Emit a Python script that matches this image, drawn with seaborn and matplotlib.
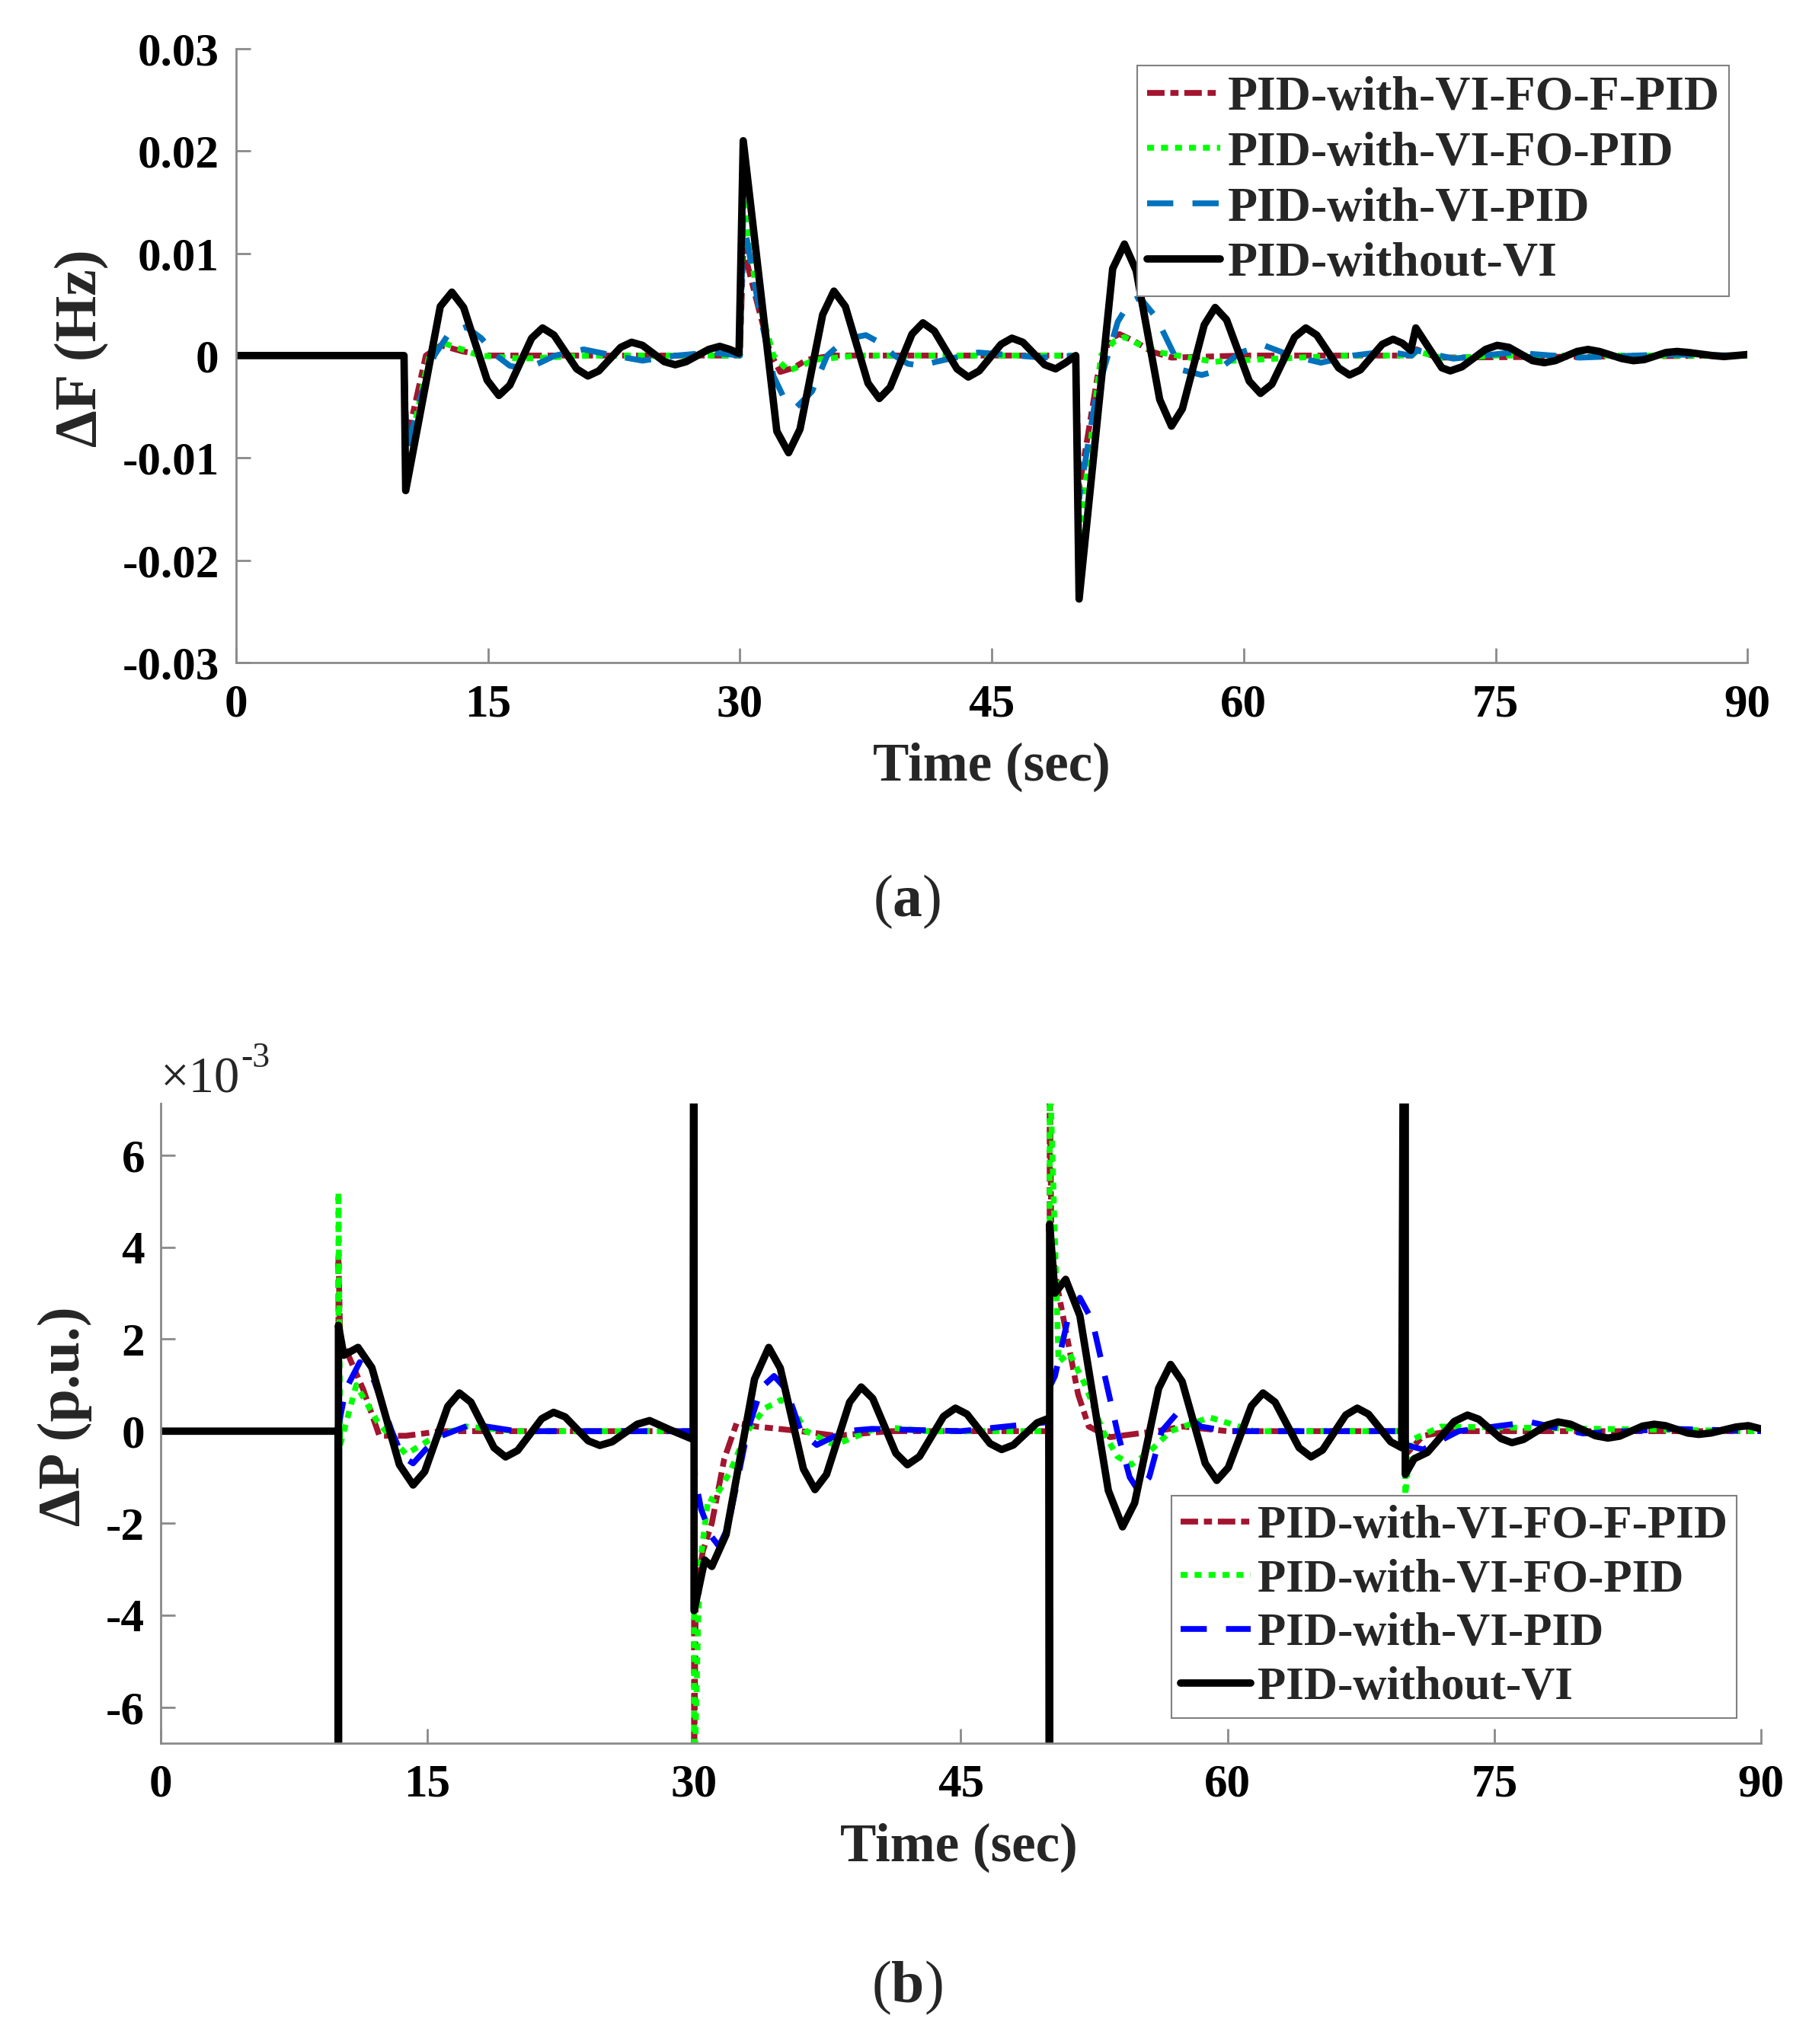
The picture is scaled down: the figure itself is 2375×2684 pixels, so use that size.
import matplotlib
matplotlib.use("Agg")
import matplotlib.pyplot as plt
import pandas as pd
import seaborn as sns

SERIES = ["PID-with-VI-FO-F-PID", "PID-with-VI-FO-PID", "PID-with-VI-PID", "PID-without-VI"]

# ---- (a) frequency deviation, Hz ----
tF_red = [0, 10.0, 10.15, 11.3, 12.2, 13.5, 15.0, 30.0, 30.2, 31.1, 31.8, 32.4, 33.2, 34.0, 35.5,
          50.0, 50.2, 51.3, 52.0, 52.6, 53.5, 54.5, 55.7, 60.0, 70.0, 70.3, 71.5, 90]
F_red = [0, 0, -0.0085, 0.0, 0.0010, 0.0004, 0.0, 0.0, 0.0105, 0.0047, 0.0003, -0.0016, -0.0012, -0.0004, 0.0,
         0.0, -0.0130, -0.0020, 0.0016, 0.0021, 0.0014, 0.0004, -0.0002, 0.0, 0.0, 0.0006, -0.0002, 0.0]

tF_green = [0, 10.0, 10.15, 11.5, 12.4, 14.5, 17.0, 21.0, 30.0, 30.2, 31.0, 32.0, 32.9, 34.5, 37.0,
            50.0, 50.2, 51.5, 52.3, 52.9, 54.0, 55.0, 58.2, 62.0, 66.0, 70.0, 70.3, 72.0, 75.0, 90]
F_green = [0, 0, -0.0105, 0.0, 0.0012, 0.0, -0.0003, 0.0, 0.0, 0.0155, 0.0060, 0.0, -0.0015, -0.0004, 0.0,
           0.0, -0.0180, 0.0, 0.0014, 0.0018, 0.0009, 0.0003, -0.0006, -0.0003, 0.0, 0.0, 0.0004, -0.0003, 0.0, 0.0]

tF_blue = [0, 10.0, 10.15, 11.0, 11.8, 12.7, 13.7, 14.6, 15.5, 16.3, 17.2, 18.1, 19.0, 20.7, 22.5,
           24.2, 26.2, 28.3, 30.0, 30.2, 31.2, 32.0, 32.7, 33.4, 34.3, 35.2, 36.3, 37.5, 38.4, 39.2,
           40.0, 40.8, 41.7, 44.2, 48.0, 50.0, 50.2, 51.2, 52.5, 53.2, 53.8, 54.8, 56.3, 57.5, 58.4,
           59.8, 61.2, 62.8, 64.6, 66.5, 68.5, 70.0, 70.3, 72.5, 76.0, 80.0, 85.0, 90]
F_blue = [0, 0, -0.0095, -0.0040, 0.0, 0.0022, 0.0028, 0.0017, 0.0, -0.0010, -0.0013, -0.0007, 0.0, 0.0006, 0.0,
          -0.0005, 0.0, 0.0003, 0.0, 0.0134, 0.0040, -0.0020, -0.0044, -0.0050, -0.0035, 0.0, 0.0016, 0.0020, 0.0012, 0.0,
          -0.0008, -0.0010, -0.0006, 0.0003, -0.0002, 0.0, -0.0140, -0.0040, 0.0033, 0.0052, 0.0057, 0.0037, -0.0014, -0.0019, -0.0015,
          0.0003, 0.0010, 0.0, -0.0007, 0.0, 0.0004, 0.0, 0.0005, -0.0003, 0.0003, -0.0002, 0.0001, 0.0]

tF_black = [0, 10.0, 10.1, 12.16, 12.85, 13.55, 14.95, 15.65, 16.3, 17.6, 18.25,
            18.93, 20.28, 20.95, 21.6, 22.9, 23.55, 24.2, 25.5, 26.15, 26.8, 28.14, 28.8,
            29.4, 29.95, 30.2, 32.2, 32.9, 33.58, 34.93, 35.6, 36.28, 37.63, 38.3,
            38.95, 40.25, 40.9, 41.58, 42.93, 43.6, 44.25, 45.55, 46.2, 46.85, 48.15, 48.8,
            49.4, 50.0, 50.2, 52.2, 52.9, 53.6, 55.0, 55.7, 56.35, 57.65, 58.3,
            58.98, 60.33, 61.0, 61.68, 63.03, 63.7, 64.35, 65.65, 66.3, 66.95, 68.25, 68.9,
            69.45, 69.95, 70.25, 71.8, 72.3, 73.0, 74.4, 75.1, 75.8, 77.2, 77.9,
            78.55, 79.85, 80.5, 81.18, 82.53, 83.2, 83.85, 85.15, 85.8, 86.5, 87.9, 88.6, 90]
F_black = [0, 0, -0.0132, 0.0048, 0.0062, 0.0047, -0.0024, -0.0039, -0.0029, 0.0017, 0.0027,
           0.0020, -0.0013, -0.0020, -0.0015, 0.0008, 0.0013, 0.0010, -0.0006, -0.0009, -0.0006, 0.0006, 0.0009,
           0.0006, 0.0002, 0.0210, -0.0074, -0.0095, -0.0072, 0.0040, 0.0063, 0.0048, -0.0027, -0.0042,
           -0.0031, 0.0021, 0.0032, 0.0024, -0.0013, -0.0021, -0.0015, 0.0011, 0.0017, 0.0013, -0.0009, -0.0013,
           -0.0007, 0.0, -0.0238, 0.0085, 0.0109, 0.0083, -0.0043, -0.0069, -0.0052, 0.0030, 0.0047,
           0.0035, -0.0025, -0.0037, -0.0028, 0.0018, 0.0027, 0.0020, -0.0012, -0.0019, -0.0014, 0.0011, 0.0016,
           0.0012, 0.0005, 0.0027, -0.0012, -0.0015, -0.0011, 0.0006, 0.0010, 0.0008, -0.0005, -0.0007,
           -0.0005, 0.0004, 0.0006, 0.0004, -0.0003, -0.0005, -0.0004, 0.0003, 0.0004, 0.0003, 0.0000, -0.0001, 0.0001]

# ---- (b) power deviation, x1e-3 p.u. ----
tP_red = [0, 10.0, 10.0, 10.1, 10.5, 11.4, 12.3, 13.8, 15.8,
          30.0, 30.0, 30.1, 30.5, 31.0, 31.7, 32.4, 33.5, 36.0, 38.0, 41.0,
          50.0, 50.0, 50.1, 50.5, 51.0, 51.6, 52.2, 53.4, 56.0, 57.5, 60.0,
          70.0, 70.05, 71.0, 72.5, 90]
P_red = [0, 0, 3.8, 2.0, 1.7, 0.9, -0.1, -0.1, 0.0,
         0.0, -7.5, -3.5, -2.6, -2.0, -0.6, 0.18, 0.1, 0.0, -0.1, 0.0,
         0.0, 8.0, 4.0, 3.0, 2.0, 0.8, 0.1, -0.13, 0.0, 0.1, 0.0,
         0.0, -0.5, -0.1, 0.0, 0.0]

tP_green = [0, 10.0, 10.0, 10.1, 11.0, 12.2, 13.8, 15.5, 17.2, 20.0,
            30.0, 30.0, 30.0, 30.3, 30.8, 31.1, 32.0, 33.0, 34.0, 34.9, 35.6, 36.3, 37.9, 40.5, 43.0,
            50.0, 50.0, 50.0, 50.5, 51.1, 52.0, 53.0, 53.8, 54.6, 55.6, 56.8, 59.0, 61.5,
            70.0, 70.0, 70.3, 72.0, 90]
P_green = [0, 0, 5.2, -0.3, 1.0, 0.2, -0.5, -0.1, 0.1, 0.0,
           0.0, 0.5, -8.0, -3.0, -1.45, -1.5, -0.9, 0.0, 0.5, 0.68, 0.45, 0.0, -0.3, 0.1, 0.0,
           0.0, -0.3, 8.0, 1.5, 1.7, 1.0, 0.0, -0.55, -0.73, -0.45, 0.0, 0.3, 0.0,
           0.0, -1.4, -0.2, 0.1, 0.0]

tP_blue = [0, 10.0, 10.05, 10.4, 11.2, 12.0, 13.0, 13.6, 14.2, 14.9, 15.8, 17.5, 20.0,
           30.0, 30.05, 30.4, 31.0, 31.4, 31.9, 33.0, 33.8, 34.5, 35.2, 36.0, 36.9, 38.5, 40.0, 45.0,
           50.0, 50.05, 50.3, 51.0, 51.7, 52.4, 53.8, 54.5, 55.0, 55.6, 56.3, 57.3, 58.5, 60.0,
           70.0, 70.05, 71.0, 73.0, 77.0, 80.0, 85.0, 90]
P_blue = [0, 0, 0.2, 0.9, 1.5, 1.1, 0.0, -0.55, -0.7, -0.4, -0.1, 0.15, 0.0,
          0.0, -1.0, -1.7, -2.3, -2.5, -2.1, 0.0, 0.95, 1.2, 0.9, 0.0, -0.3, 0.0, 0.05, 0.0,
          0.2, 1.0, 1.2, 2.4, 2.9, 2.4, 0.0, -1.0, -1.3, -1.0, 0.0, 0.45, 0.1, 0.0,
          0.0, -0.3, -0.4, 0.0, 0.2, -0.05, 0.05, 0.0]

tP_black = [0, 10.0, 10.0, 10.0, 10.3, 11.1, 11.88, 13.43, 14.2, 14.85, 16.15, 16.8,
            17.45, 18.75, 19.4, 20.08, 21.43, 22.1, 22.75, 24.05, 24.7, 25.4, 26.8, 27.5,
            28.65, 29.95, 30.0, 30.0, 30.6, 31.0, 31.8, 33.4, 34.2, 34.85, 36.15, 36.8,
            37.45, 38.75, 39.4, 40.05, 41.35, 42.0, 42.68, 44.03, 44.7, 45.35, 46.65, 47.3,
            47.96, 49.29, 49.95, 50.0, 50.0, 50.3, 50.9, 51.7, 53.3, 54.1, 54.78, 56.13, 56.8,
            57.45, 58.75, 59.4, 60.05, 61.35, 62.0, 62.68, 64.03, 64.7, 65.35, 66.65, 67.3,
            67.93, 69.18, 69.8, 70.0, 70.0, 70.5, 71.25, 72.75, 73.5, 74.13, 75.38, 76.0,
            76.65, 77.95, 78.6, 79.3, 80.7, 81.4, 82.05, 83.35, 84.0, 84.63, 85.88, 86.5,
            87.2, 88.6, 89.3, 90]
P_black = [0, 0, -20.0, 2.3, 1.65, 1.82, 1.38, -0.73, -1.17, -0.88, 0.54, 0.83,
           0.63, -0.36, -0.56, -0.42, 0.27, 0.41, 0.31, -0.21, -0.31, -0.23, 0.15, 0.23,
           0.03, -0.18, 20.0, -3.9, -2.8, -2.94, -2.25, 1.13, 1.82, 1.37, -0.82, -1.27,
           -0.94, 0.63, 0.96, 0.71, -0.48, -0.73, -0.55, 0.32, 0.50, 0.37, -0.27, -0.40,
           -0.30, 0.18, 0.28, -20.0, 4.5, 3.0, 3.3, 2.51, -1.29, -2.08, -1.56, 0.93, 1.45,
           1.08, -0.70, -1.07, -0.79, 0.55, 0.83, 0.63, -0.36, -0.56, -0.41, 0.35, 0.50,
           0.37, -0.23, -0.36, 20.0, -0.94, -0.6, -0.46, 0.21, 0.35, 0.26, -0.16, -0.25,
           -0.18, 0.13, 0.2, 0.15, -0.10, -0.15, -0.11, 0.11, 0.15, 0.12, -0.04, -0.07,
           -0.04, 0.09, 0.12, 0.05]

x_ticks = [0, 15, 30, 45, 60, 75, 90]
yF_ticks = [-0.03, -0.02, -0.01, 0, 0.01, 0.02, 0.03]
yF_labels = ["-0.03", "-0.02", "-0.01", "0", "0.01", "0.02", "0.03"]
yP_ticks = [-6, -4, -2, 0, 2, 4, 6]
yP_labels = ["-6", "-4", "-2", "0", "2", "4", "6"]

sns.set_style("ticks")
plt.rcParams["font.family"] = ["Liberation Serif", "DejaVu Serif"]
plt.rcParams["font.weight"] = "bold"
plt.rcParams["axes.unicode_minus"] = False
plt.rcParams["mathtext.fontset"] = "custom"
plt.rcParams["mathtext.rm"] = "Liberation Serif"
plt.rcParams["mathtext.bf"] = "Liberation Serif:bold"

AXIS_GRAY = "#8a8a8a"
RED_DASH = (3.0, 1.0, 1.4, 1.0)
GREEN_DOT = (1.2, 1.2)
BLUE_DASH = (4.5, 3.3)
TOP_STYLES = [("#A2142F", 5.5, RED_DASH), ("#00FF00", 5.5, GREEN_DOT),
              ("#0072BD", 5.5, BLUE_DASH), ("black", 7.0, None)]
BOT_STYLES = [("#A2142F", 5.5, RED_DASH), ("#00FF00", 5.5, GREEN_DOT),
              ("#0000FF", 5.5, BLUE_DASH), ("black", 7.0, None)]


def draw_series(ax, curves, styles):
    handles = []
    for (t, v), name, (col, lw, dash) in zip(curves, SERIES, styles):
        df = pd.DataFrame({"t": t, "v": v})
        sns.lineplot(data=df, x="t", y="v", ax=ax, color=col, linewidth=lw,
                     estimator=None, sort=False, legend=False)
        line = ax.get_lines()[-1]
        line.set_solid_joinstyle("round")
        line.set_dash_joinstyle("round")
        if dash is not None:
            line.set_dashes(dash)
        line.set_label(name)
        handles.append(line)
    return handles


def style_axes(ax, ylim, yticks, ylabels):
    ax.set_xlim(0, 90)
    ax.set_ylim(*ylim)
    ax.set_xticks(x_ticks)
    ax.set_xticklabels([str(x) for x in x_ticks])
    ax.set_yticks(yticks)
    ax.set_yticklabels(ylabels)
    for s in ["top", "right"]:
        ax.spines[s].set_visible(False)
    for s in ["left", "bottom"]:
        ax.spines[s].set_color(AXIS_GRAY)
        ax.spines[s].set_linewidth(2.0)
    ax.tick_params(direction="in", length=14, width=2.0, color=AXIS_GRAY,
                   labelsize=44, labelcolor="black")
    for lab in ax.get_xticklabels() + ax.get_yticklabels():
        lab.set_fontweight("bold")


def add_legend(ax, handles, loc, anchor, size, spacing):
    leg = ax.legend(handles=handles, loc=loc, bbox_to_anchor=anchor,
                    handlelength=1.5, handletextpad=0.15, labelspacing=spacing,
                    borderpad=0.2, borderaxespad=0.0, fancybox=False, framealpha=1,
                    edgecolor="#808080", prop={"weight": "bold", "size": size})
    leg.get_frame().set_linewidth(1.5)
    return leg


fig = plt.figure(figsize=(23.75, 26.84), dpi=100)

# ---------- (a) ----------
ax1 = fig.add_axes([0.1305, 0.6759, 0.8355, 0.3003])
h1 = draw_series(ax1, [(tF_red, F_red), (tF_green, F_green), (tF_blue, F_blue), (tF_black, F_black)],
                 TOP_STYLES)
style_axes(ax1, (-0.03, 0.03), yF_ticks, yF_labels)
ax1.tick_params(axis="x", pad=20)
ax1.tick_params(axis="y", pad=16)
ax1.set_xlabel("Time (sec)", fontsize=51, fontweight="bold", va="center")
ax1.xaxis.set_label_coords(0.5, -0.171)
ax1.set_ylabel("ΔF (Hz)", fontsize=56, fontweight="bold", va="center")
ax1.yaxis.set_label_coords(-0.102, 0.512)
add_legend(ax1, h1, "upper right", (0.988, 0.972), 46, 0.22)

# ---------- (b) ----------
ax2 = fig.add_axes([0.0888, 0.1472, 0.8846, 0.3129])
h2 = draw_series(ax2, [(tP_red, P_red), (tP_green, P_green), (tP_blue, P_blue), (tP_black, P_black)],
                 BOT_STYLES)
style_axes(ax2, (-6.78, 7.12), yP_ticks, yP_labels)
ax2.tick_params(axis="x", pad=19)
ax2.tick_params(axis="y", pad=15)
ax2.set_xlabel("Time (sec)", fontsize=51, fontweight="bold", va="center")
ax2.xaxis.set_label_coords(0.499, -0.164)
ax2.set_ylabel("ΔP (p.u.)", fontsize=56, fontweight="bold", va="center")
ax2.yaxis.set_label_coords(-0.060, 0.511)
ax2.text(0.0, 1.017, "×10", transform=ax2.transAxes, ha="left", va="baseline",
         fontsize=48, fontweight="normal")
ax2.annotate("-3", xy=(0.0, 1.017), xycoords="axes fraction", xytext=(76, 24),
             textcoords="offset points", ha="left", va="baseline",
             fontsize=33, fontweight="normal")
add_legend(ax2, h2, "lower right", (0.985, 0.039), 44, 0.24)

# panel captions
fig.text(0.5015, 0.5589, r"($\mathbf{a}$)", ha="center", va="center", fontsize=56, fontweight="normal")
fig.text(0.5015, 0.0276, r"($\mathbf{b}$)", ha="center", va="center", fontsize=56, fontweight="normal")

fig.savefig("out.png", dpi=100, facecolor="white")
